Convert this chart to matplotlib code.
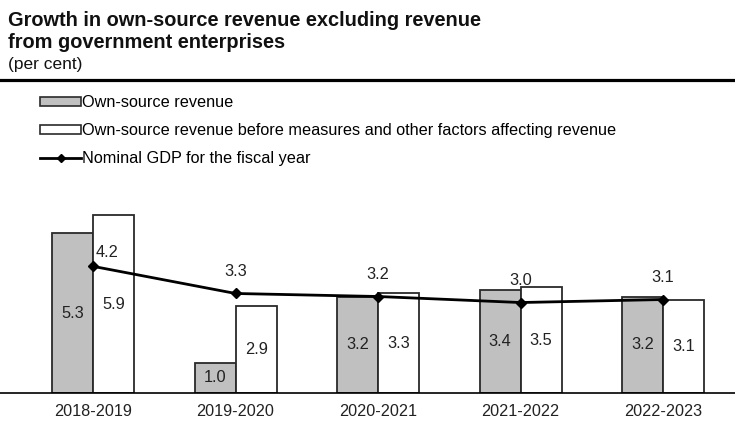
import matplotlib.pyplot as plt
import numpy as np
from matplotlib.patches import Patch
from matplotlib.lines import Line2D

plt.rcParams['font.family'] = ['Liberation Sans', 'DejaVu Sans']

years = ["2018-2019", "2019-2020", "2020-2021", "2021-2022", "2022-2023"]
own_source = [5.3, 1.0, 3.2, 3.4, 3.2]
before_measures = [5.9, 2.9, 3.3, 3.5, 3.1]
nominal_gdp = [4.2, 3.3, 3.2, 3.0, 3.1]

W, H = 735, 421
fig = plt.figure(figsize=(W / 100, H / 100), dpi=100)

# plot area: baseline near the bottom, bars below the legend
ax = fig.add_axes([0, 28 / H, 1, 193 / H])
x = np.arange(len(years))
bw = 0.288

ax.bar(x - bw / 2, own_source, bw, color="#c0c0c0", edgecolor="#2a2a2a", linewidth=1.3, zorder=2)
ax.bar(x + bw / 2, before_measures, bw, color="white", edgecolor="#2a2a2a", linewidth=1.3, zorder=2)
ax.plot(x, nominal_gdp, color="black", linewidth=2, marker="D", markersize=5, zorder=3)

lbl = dict(ha="center", va="center", fontsize=11.8, color="#222222", zorder=4)
for xi, v in zip(x, own_source):
    ax.text(xi - bw / 2, v / 2, f"{v:.1f}", **lbl)
for xi, v in zip(x, before_measures):
    ax.text(xi + bw / 2, v / 2, f"{v:.1f}", **lbl)
for i, (xi, v) in enumerate(zip(x, nominal_gdp)):
    dx = 14 if i == 0 else 0
    dy = 14 if i == 0 else 22
    ax.annotate(f"{v:.1f}", (xi, v), xytext=(dx, dy), textcoords="offset pixels", **lbl)

ax.set_xlim(-0.653, 4.505)
ax.set_ylim(0, 6.4)
for s in ["top", "right", "left"]:
    ax.spines[s].set_visible(False)
ax.spines["bottom"].set_linewidth(1.2)
ax.set_yticks([])
ax.set_xticks(x)
ax.set_xticklabels(years, fontsize=11.7, color="#222222")
ax.tick_params(axis="x", length=0, pad=8)

# heading
fig.text(8 / W, 1 - 20 / H, "Growth in own-source revenue excluding revenue", fontsize=14.4,
         fontweight="bold", va="center", ha="left", color="#111111")
fig.text(8 / W, 1 - 43 / H, "from government enterprises", fontsize=14.4,
         fontweight="bold", va="center", ha="left", color="#111111")
fig.text(8 / W, 1 - 65 / H, "(per cent)", fontsize=12.5, va="center", ha="left", color="#111111")
fig.add_artist(Line2D([0, 1], [1 - 80 / H] * 2, color="black", linewidth=2.3, transform=fig.transFigure))

handles = [
    Patch(facecolor="#c0c0c0", edgecolor="#2a2a2a", linewidth=1.2),
    Patch(facecolor="white", edgecolor="#2a2a2a", linewidth=1.2),
    Line2D([], [], color="black", linewidth=2, marker="D", markersize=4),
]
labels = [
    "Own-source revenue",
    "Own-source revenue before measures and other factors affecting revenue",
    "Nominal GDP for the fiscal year",
]
fig.legend(handles, labels, loc="upper left", bbox_to_anchor=(40 / W, 1 - 95 / H), frameon=False,
           fontsize=11.7, handlelength=2.55, handleheight=0.5, handletextpad=0.05, labelspacing=0.8,
           borderpad=0, borderaxespad=0)

fig.savefig("out.png", dpi=100, facecolor="white")
